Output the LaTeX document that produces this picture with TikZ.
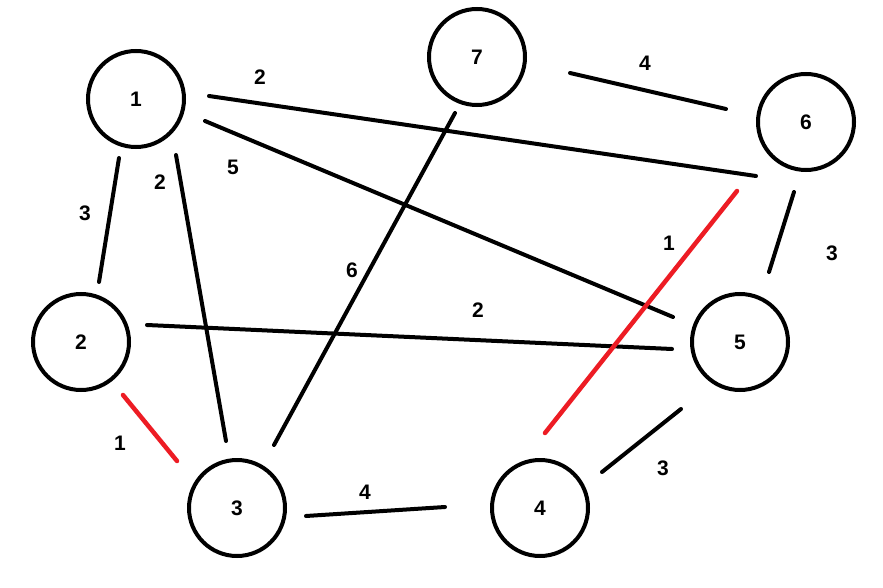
\documentclass[tikz,border=0pt]{standalone}
\usepackage{fontspec}
\setmainfont{Liberation Sans}
\definecolor{paintred}{RGB}{237,28,36}
\begin{document}
\begin{tikzpicture}[x=1pt,y=-1pt,
  vert/.style={circle,draw=black,line width=4pt,minimum size=96pt,inner sep=0pt,
    font=\fontsize{21}{25}\selectfont\bfseries},
  wlabel/.style={inner sep=0pt,font=\fontsize{21}{25}\selectfont\bfseries},
  edge/.style={line width=4pt,line cap=round,draw=black},
  redge/.style={line width=4.5pt,line cap=round,draw=paintred}]
\useasboundingbox[fill=white] (0,0) rectangle (883,588);
% vertices
\node[vert] (n1) at (136,99) {1};
\node[vert] (n2) at (81,342) {2};
\node[vert] (n3) at (237,508) {3};
\node[vert] (n4) at (540,508) {4};
\node[vert] (n5) at (740,342) {5};
\node[vert] (n6) at (806,122) {6};
\node[vert] (n7) at (477,57) {7};
% edges (drawn with gaps from the circles)
\draw[edge] ([shift={(73,-3)}]n1.center) -- ([shift={(-50,54)}]n6.center);
\draw[edge] ([shift={(69,22)}]n1.center) -- ([shift={(-67,-25)}]n5.center);
\draw[edge] ([shift={(-17,59)}]n1.center) -- ([shift={(18,-60)}]n2.center);
\draw[edge] ([shift={(40,56)}]n1.center) -- ([shift={(-11,-67)}]n3.center);
\draw[edge] ([shift={(-22,56)}]n7.center) -- ([shift={(37,-63)}]n3.center);
\draw[edge] ([shift={(93,16)}]n7.center) -- ([shift={(-80,-13)}]n6.center);
\draw[edge] ([shift={(-12,70)}]n6.center) -- ([shift={(29,-70)}]n5.center);
\draw[edge] ([shift={(66,-17)}]n2.center) -- ([shift={(-68,7)}]n5.center);
\draw[edge] ([shift={(69,8)}]n3.center) -- ([shift={(-95,-1)}]n4.center);
\draw[edge] ([shift={(-59,67)}]n5.center) -- ([shift={(62,-36)}]n4.center);
\draw[redge] ([shift={(-69,69)}]n6.center) -- ([shift={(5,-75)}]n4.center);
\draw[redge] ([shift={(42,53)}]n2.center) -- ([shift={(-60,-47)}]n3.center);
% weights
\node[wlabel] (w16) at (260,77) {2};
\node[wlabel] (w15) at (233,167) {5};
\node[wlabel] (w12) at (85,213) {3};
\node[wlabel] (w13) at (160,182) {2};
\node[wlabel] (w73) at (352,270) {6};
\node[wlabel] (w76) at (645,63) {4};
\node[wlabel] (w64) at (669,243) {1};
\node[wlabel] (w65) at (832,253) {3};
\node[wlabel] (w25) at (478,310) {2};
\node[wlabel] (w23) at (120,443) {1};
\node[wlabel] (w34) at (365,492) {4};
\node[wlabel] (w54) at (663,468) {3};
\end{tikzpicture}
\end{document}
